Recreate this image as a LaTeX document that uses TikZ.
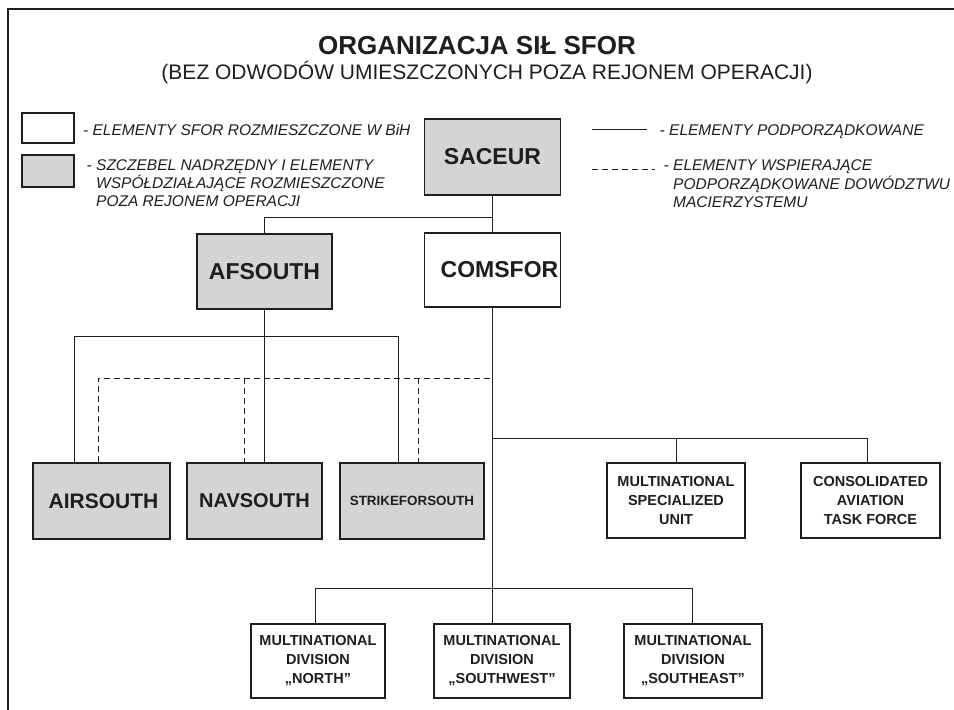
\documentclass[tikz,border=0pt]{standalone}
\usepackage{fontspec}
\setmainfont{Liberation Sans}
\definecolor{boxgray}{RGB}{212,212,212}
\definecolor{ink}{RGB}{30,30,30}
\tikzset{
  box/.style={draw=ink, line width=1.3pt, inner sep=0pt, text=ink, font=\bfseries},
  graybox/.style={box, fill=boxgray},
  conn/.style={draw=ink, line width=0.9pt},
  dconn/.style={draw=ink, line width=0.9pt, dash pattern=on 6pt off 4pt},
  legtxt/.style={anchor=base west, inner sep=0pt, text=ink, font=\fontsize{15.5}{17.5}\selectfont\itshape},
  big/.style={font=\fontsize{23}{27}\selectfont\bfseries},
  small/.style={font=\fontsize{14.5}{19}\selectfont\bfseries, align=center},
}
\begin{document}
\begin{tikzpicture}[x=1pt,y=-1pt]
\useasboundingbox (0,0) rectangle (954,710);
\fill[white] (0,0) rectangle (954,710);
% frame
\coordinate (fr1) at (8,710);
\coordinate (fr2) at (8,9);
\coordinate (fr3) at (954,9);
\draw[ink, line width=1.4pt] (fr1) -- (fr2) -- (fr3);

% title
\node[anchor=base, inner sep=0pt, text=ink, font=\fontsize{26}{30}\selectfont\bfseries] (title) at (477,54.5) {ORGANIZACJA SIŁ SFOR};
\node[anchor=base, inner sep=0pt, text=ink, font=\fontsize{21}{25}\selectfont] (subtitle) at (487,79.5) {(BEZ ODWODÓW UMIESZCZONYCH POZA REJONEM OPERACJI)};

% legend left
\node[box, font=\normalfont, minimum width=52pt, minimum height=30pt] (legwhite) at (48,128) {};
\node[graybox, font=\normalfont, minimum width=52pt, minimum height=32pt] (leggray) at (48,171) {};
\node[legtxt] (lt1) at (83,135) {- ELEMENTY SFOR ROZMIESZCZONE W BiH};
\node[legtxt] (lt2) at (96,170) {\llap{- }SZCZEBEL NADRZĘDNY I ELEMENTY};
\node[legtxt] (lt3) at (96,188) {WSPÓŁDZIAŁAJĄCE ROZMIESZCZONE};
\node[legtxt] (lt4) at (96,206) {POZA REJONEM OPERACJI};

% legend right
\coordinate (ls1) at (592,129);
\coordinate (ls2) at (647,129);
\draw[conn] (ls1) -- (ls2);
\coordinate (ld1) at (592,169);
\coordinate (ld2) at (655,169);
\draw[dconn] (ld1) -- (ld2);
\node[legtxt] (rt1) at (669,135) {\llap{- }ELEMENTY PODPORZĄDKOWANE};
\node[legtxt] (rt2) at (673,170) {\llap{- }ELEMENTY WSPIERAJĄCE};
\node[legtxt] (rt3) at (673,189) {PODPORZĄDKOWANE DOWÓDZTWU};
\node[legtxt] (rt4) at (673,207) {MACIERZYSTEMU};

% boxes
\node[graybox, big, minimum width=136pt, minimum height=76pt] (saceur) at (492.5,157) {SACEUR};
\node[box, big, minimum width=136pt, minimum height=74pt] (comsfor) at (492.5,270) {\hspace{14pt}COMSFOR};
\node[graybox, big, minimum width=135pt, minimum height=75pt] (afsouth) at (264.5,271.5) {AFSOUTH};

\node[graybox, font=\fontsize{21}{25}\selectfont\bfseries, minimum width=137pt, minimum height=76pt] (airsouth) at (101.5,501) {\hspace{4pt}AIRSOUTH};
\node[graybox, font=\fontsize{20}{24}\selectfont\bfseries, minimum width=135pt, minimum height=76pt] (navsouth) at (254.5,501) {NAVSOUTH};
\node[graybox, font=\fontsize{13.4}{16}\selectfont\bfseries, minimum width=144pt, minimum height=76pt] (strike) at (412,501) {STRIKEFORSOUTH};

\node[box, small, minimum width=138pt, minimum height=75pt] (msu) at (676,500.5) {MULTINATIONAL\\SPECIALIZED\\UNIT};
\node[box, small, minimum width=139pt, minimum height=75pt] (catf) at (870.5,500.5) {CONSOLIDATED\\AVIATION\\TASK FORCE};

\node[box, small, minimum width=134pt, minimum height=74pt] (north) at (318,661) {MULTINATIONAL\\DIVISION\\„NORTH”};
\node[box, small, minimum width=136pt, minimum height=74pt] (southwest) at (502,661) {MULTINATIONAL\\DIVISION\\„SOUTHWEST”};
\node[box, small, minimum width=138pt, minimum height=74pt] (southeast) at (693,661) {MULTINATIONAL\\DIVISION\\„SOUTHEAST”};

% connectors: SACEUR
\coordinate (j1) at (492.5,217);
\draw[conn] (saceur.south) -- (comsfor.north);
\draw[conn] (j1) -| (afsouth.north);

% AFSOUTH subordinates
\coordinate (a1) at (74,336);
\coordinate (a2) at (264.5,336);
\coordinate (a3) at (398,336);
\draw[conn] (afsouth.south) -- (navsouth.north -| a2);
\draw[conn] (airsouth.north -| a1) -- (a1) -- (a3) -- (strike.north -| a3);

% dashed supporting
\coordinate (d1) at (98,378);
\coordinate (d2) at (244,378);
\coordinate (d3) at (418,378);
\coordinate (d4) at (492.5,378);
\draw[dconn] (airsouth.north -| d1) -- (d1) -- (d4);
\draw[dconn] (d2) -- (navsouth.north -| d2);
\draw[dconn] (d3) -- (strike.north -| d3);

% COMSFOR subordinates
\coordinate (c1) at (492.5,438);
\coordinate (c2) at (676,438);
\coordinate (c3) at (867,438);
\coordinate (c4) at (492.5,588);
\coordinate (c5) at (315,588);
\coordinate (c6) at (692,588);
\draw[conn] (comsfor.south) -- (southwest.north -| c4);
\draw[conn] (c1) -- (c3) -- (catf.north -| c3);
\draw[conn] (c2) -- (msu.north);
\draw[conn] (north.north -| c5) -- (c5) -- (c6) -- (southeast.north -| c6);
\end{tikzpicture}
\end{document}
